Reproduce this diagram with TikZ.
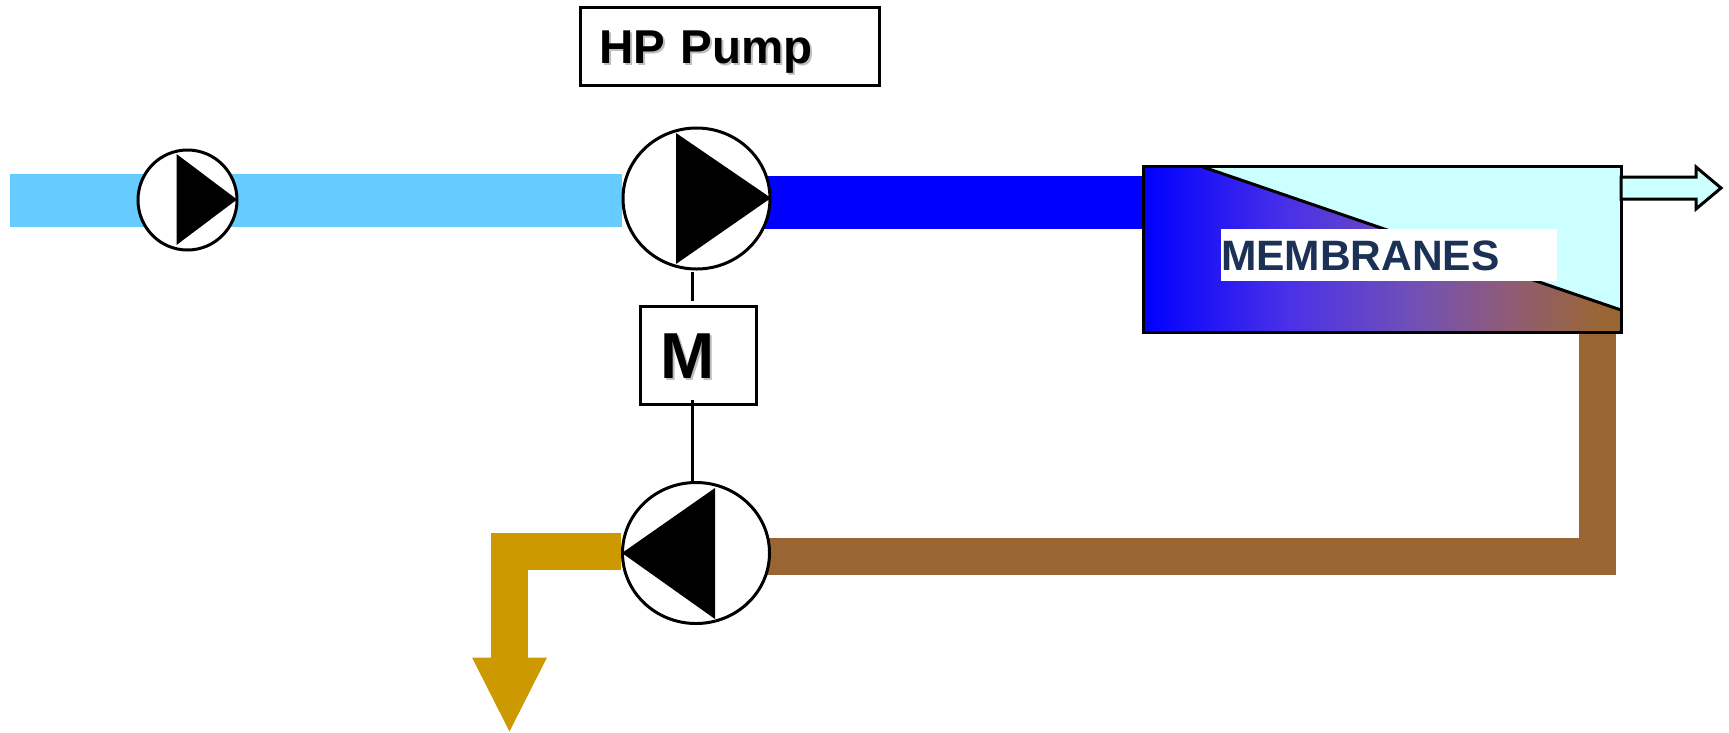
\documentclass[tikz,border=0pt]{standalone}
\usepackage{fontspec}
\setmainfont{Liberation Sans}
\usetikzlibrary{shapes.geometric,backgrounds,calc}
\definecolor{feedblue}{HTML}{66CCFF}
\definecolor{hpblue}{HTML}{0000FF}
\definecolor{brine}{HTML}{996633}
\definecolor{gold}{HTML}{CC9900}
\definecolor{perm}{HTML}{CCFFFF}
\definecolor{navy}{HTML}{1B3155}
\definecolor{shadowgrey}{HTML}{BEBEBE}
\definecolor{gradA}{HTML}{4A30E8}
\definecolor{gradB}{HTML}{7050B8}
\definecolor{gradC}{HTML}{8F5B78}
\pgfdeclarehorizontalshading{memgrad}{100bp}{
  color(0bp)=(hpblue); color(25bp)=(hpblue);
  color(40bp)=(gradA);
  color(53bp)=(gradB);
  color(63bp)=(gradC);
  color(73bp)=(brine); color(100bp)=(brine)}
\newcommand{\shadowed}[1]{\rlap{\kern2pt\raisebox{-2pt}{\textcolor{shadowgrey}{#1}}}#1}
\tikzset{
  outline/.style={line width=3pt,draw=black},
  pump/.style={shape=ellipse,outline,fill=white,inner sep=0pt},
  pipe/.style={line cap=butt,line join=miter},
  tri/.style={fill=black,draw=none},
  link/.style={line width=3pt,draw=black},
  labelbox/.style={shape=rectangle,outline,fill=white,align=left,font=\bfseries}
}
\begin{document}
\begin{tikzpicture}[x=1pt,y=-1pt]
\useasboundingbox (0,0) rectangle (1729,732);
% named places
\coordinate (inlet) at (10,200.5);
\coordinate (hprow) at (1000,202);
\coordinate (brinedrop) at (1597,332);
\coordinate (brinebend) at (1597,556.5);
\coordinate (goldbend) at (509.5,551.5);
\coordinate (goldend) at (509.5,657.5);
\coordinate (shafttop) at (692,272);
\coordinate (shaftmid) at (692,301);
\coordinate (shaftlow) at (692,400);
% pumps
\node[pump,minimum width=99pt,minimum height=100pt] (feedpump) at (187.5,200) {};
\node[pump,minimum width=147pt,minimum height=141pt] (hppump) at (696.5,198.5) {};
\node[pump,minimum width=147pt,minimum height=141pt] (erpump) at (696,553) {};
\fill[tri] (176.5,154) -- (237,199.5) -- (176.5,245) -- cycle;
\fill[tri] (676,133) -- (771,198) -- (676,264) -- cycle;
\fill[tri] (622,553) -- (715,488) -- (715,619) -- cycle;
% membrane vessel
\node[shape=rectangle,fill=perm,minimum width=477pt,minimum height=165pt,inner sep=0pt] (membrane) at (1382.5,249.5) {};
\shade[shading=memgrad,draw=none]
  (membrane.north west) -- (1203,167) -- (1621,310) -- (membrane.south east) -- (membrane.south west) -- cycle;
\draw[outline] (1203,167) -- (1621,310);
\draw[outline] (membrane.north west) rectangle (membrane.south east);
\node[shape=rectangle,fill=white,minimum width=336pt,minimum height=52pt,inner xsep=0pt,inner ysep=0pt,text width=336pt,align=left,text=navy,text height=31.4pt,text depth=0pt,font=\bfseries\fontsize{42.5}{44}\selectfont] (memlabel) at (1389,255) {MEMBRANES};
% permeate arrow
\draw[outline,fill=perm,line join=miter] (1621,177) -- (1696,177) -- (1696,167) -- (1721,188) -- (1696,209) -- (1696,199) -- (1621,199) -- cycle;
% labels
\node[labelbox,minimum width=299pt,minimum height=78pt,inner xsep=18.5pt,inner ysep=0pt,text width=262pt,text height=33pt,text depth=0pt,font=\bfseries\fontsize{47.5}{50}\selectfont] (hplabel) at (730,46.5) {\shadowed{HP Pump}};
\node[labelbox,minimum width=116pt,minimum height=98pt,inner xsep=20pt,inner ysep=0pt,text width=76pt,text height=47pt,text depth=0pt,font=\bfseries\fontsize{65}{68}\selectfont] (motor) at (698.5,355) {\shadowed{M}};
% shaft
\draw[link] (shafttop) -- (shaftmid);
\draw[link] (shaftlow) -- (shaftlow |- erpump.north);
% pipes behind
\begin{scope}[on background layer]
\draw[pipe,feedblue,line width=53pt] (inlet) -- (inlet -| hppump.west);
\draw[pipe,hpblue,line width=53pt] (hprow -| hppump.center) -- (hprow -| membrane.west);
\draw[pipe,brine,line width=37pt] (brinedrop) -- (brinebend) -- (brinebend -| erpump.center);
\draw[pipe,gold,line width=37pt] (goldbend -| erpump.west) -- (goldbend) -- (goldend);
\fill[gold] ($(goldend)+(-37.5,0)$) -- ($(goldend)+(37.5,0)$) -- ($(goldend)+(0,74)$) -- cycle;
\end{scope}
\end{tikzpicture}
\end{document}
